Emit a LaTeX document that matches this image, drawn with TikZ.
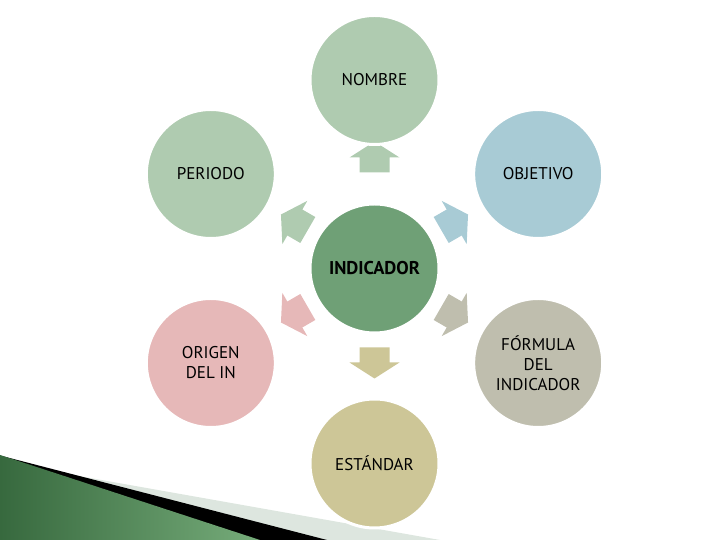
\documentclass[tikz,border=0pt]{standalone}
\usepackage{fontspec, tkz-euclide}
\setmainfont{PT Sans}
\definecolor{verdeC}{RGB}{111,160,118}
\definecolor{verdeN}{RGB}{175,203,176}
\definecolor{azulO}{RGB}{168,203,213}
\definecolor{grisF}{RGB}{191,190,174}
\definecolor{ocreE}{RGB}{205,198,151}
\definecolor{rosaI}{RGB}{230,184,184}
\definecolor{franjaC}{RGB}{221,230,223}
\tikzset{burbuja/.style={circle, minimum size=129pt, inner sep=0pt, draw=white, line width=3pt,
  align=center, font=\fontsize{17}{20}\selectfont}}

\begin{document}
\begin{tikzpicture}[x=1pt,y=1pt]
\useasboundingbox (0,0) rectangle (720,540);
\fill[franjaC] (0,78) -- (440,0) -- (0,0) -- cycle;
\fill[black] (0,84.5) -- (327,0) -- (0,0) -- cycle;
\shade[left color={rgb,255:red,55;green,105;blue,62}, right color={rgb,255:red,118;green,172;blue,122}]
  (0,85) -- (260,0) -- (0,0) -- cycle;
\tkzDefPoints{374.5/271.5/O}
\tkzDefShiftPoint[O](90:188.5){N}
\tkzDefShiftPoint[O](30:189){B}
\tkzDefShiftPoint[O](-30:189){F}
\tkzDefShiftPoint[O](270:195){E}
\tkzDefShiftPoint[O](210:189){G}
\tkzDefShiftPoint[O](150:189){P}
\foreach \ang/\off/\col in {90/19/verdeN, 30/0/azulO, -30/0/grisF, 270/2/ocreE, 210/0/rosaI, 150/0/verdeN}
  \fill[\col, shift={(O)}, rotate=\ang] (77+\off,-15) -- (92+\off,-15) -- (92+\off,-25)
    -- (108+\off,0) -- (92+\off,25) -- (92+\off,15) -- (77+\off,15) -- cycle;
\node[burbuja, fill=verdeN] (nombre) at (N) {NOMBRE};
\node[burbuja, fill=azulO] (objetivo) at (B) {OBJETIVO};
\node[burbuja, fill=grisF] (formula) at (F) {FÓRMULA\\DEL\\INDICADOR};
\node[burbuja, fill=ocreE] (estandar) at (E) {ESTÁNDAR};
\node[burbuja, fill=rosaI] (origen) at (G) {ORIGEN\\DEL IN};
\node[burbuja, fill=verdeN] (periodo) at (P) {PERIODO};
\node[burbuja, fill=verdeC, font=\fontsize{18.5}{21}\selectfont\bfseries] (indicador) at (O) {INDICADOR};
\end{tikzpicture}
\end{document}
